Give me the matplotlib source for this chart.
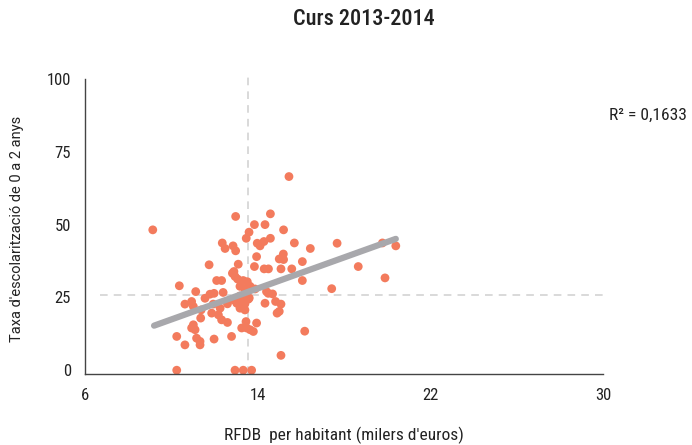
import matplotlib.pyplot as plt
import numpy as np

#
# Data
#
rfdb = [
    9.14, 12.98, 14.59, 13.85, 14.34, 13.60, 13.47, 12.36, 12.86, 12.49,
    12.98, 13.98, 14.11, 14.29, 14.59, 13.95, 11.75, 13.10, 13.85, 14.30,
    14.50, 15.00, 12.90, 15.45, 15.20, 15.70, 16.44, 17.68, 15.19, 15.20,
    16.07, 19.78, 20.40, 18.66, 15.08, 15.58, 19.90, 16.07, 17.43, 14.69,
    14.83, 15.08, 15.00, 14.90, 16.18, 15.08, 12.83, 12.95, 10.37, 12.10,
    12.33, 13.33, 13.52, 13.18, 13.41, 13.65, 13.88, 13.07, 11.13, 11.79,
    11.98, 12.40, 11.56, 10.63, 10.94, 11.02, 11.38, 11.94, 12.60, 12.87,
    13.03, 13.18, 13.33, 13.41, 13.57, 13.18, 13.41, 12.26, 11.87, 12.18,
    11.36, 12.33, 12.60, 10.94, 11.10, 11.02, 10.25, 10.63, 11.17, 11.33,
    11.33, 11.98, 12.79, 13.26, 13.49, 13.80, 13.95, 13.46, 13.65, 13.61,
    14.41, 14.49, 14.34, 10.25, 12.95, 13.33, 13.72,
]
taxa = [
    48.2, 52.8, 53.7, 50.0, 50.0, 47.4, 45.3, 43.7, 42.7, 41.8,
    41.0, 43.6, 42.7, 44.2, 45.3, 39.0, 36.2, 36.4, 35.6, 34.8,
    34.8, 38.2, 33.9, 66.5, 48.2, 43.7, 41.8, 43.6, 39.9, 38.0,
    37.3, 43.7, 42.7, 35.6, 34.8, 34.8, 31.7, 30.8, 28.0, 26.2,
    23.6, 22.7, 20.2, 19.6, 13.4, 5.1, 33.3, 32.2, 29.0, 30.8,
    30.8, 30.8, 30.4, 28.8, 27.9, 28.8, 27.9, 31.3, 27.0, 26.1,
    26.4, 26.7, 24.7, 22.7, 23.6, 21.9, 20.7, 22.7, 22.8, 24.2,
    23.0, 25.5, 24.2, 22.8, 24.4, 21.3, 20.7, 21.3, 19.6, 19.0,
    17.9, 17.3, 16.4, 14.5, 13.9, 15.6, 11.6, 8.7, 11.0, 9.9,
    8.7, 10.7, 11.6, 14.5, 14.5, 13.3, 16.2, 16.7, 13.9, 24.8,
    27.0, 26.4, 23.0, 0.0, 0.0, 0.0, 0.0,
]

# trend line ends and reference (mean) lines
trend_x = [9.2, 20.4]
trend_y = [15.3, 45.1]
mean_x = 13.55
mean_y = 25.9
r2_label = "R² = 0,1633"

x_ticks = [6, 14, 22, 30]
y_ticks = [0, 25, 50, 75, 100]

#
# Style
#
dot_color = "#F37B5D"
trend_color = "#A8A8AC"
guide_color = "#CFCFCF"
text_color = "#222222"
narrow = ["Roboto Condensed", "Liberation Sans Narrow", "Roboto", "DejaVu Sans"]
regular = ["Roboto", "DejaVu Sans"]

fig = plt.figure(figsize=(6.92, 4.45), dpi=100)
ax = fig.add_axes([85 / 692, 1 - 374 / 445, (603 - 85) / 692, (374 - 79) / 445])

# mean guide lines
ax.plot([6.7, 30.2], [mean_y, mean_y], color=guide_color, lw=1.1,
        dashes=(5, 4), clip_on=False, zorder=1)
ax.plot([mean_x, mean_x], [-1.3, 101.5], color=guide_color, lw=1.1,
        dashes=(5, 4), clip_on=False, zorder=1)

ax.scatter(rfdb, taxa, s=40, color=dot_color, edgecolors="none", zorder=2,
           clip_on=False)
ax.plot(trend_x, trend_y, color=trend_color, lw=4.5, solid_capstyle="round",
        zorder=3)

ax.set_xlim(6, 30)
ax.set_ylim(-1.3, 100)
ax.set_xticks(x_ticks)
ax.set_yticks(y_ticks)
ax.tick_params(length=0, pad=10, labelsize=12, colors=text_color)
ax.set_xticks([30], minor=True)
ax.set_yticks([100], minor=True)
ax.tick_params(which="minor", length=4, width=1, color="#444444")
for lab in ax.get_xticklabels() + ax.get_yticklabels():
    lab.set_family(narrow)

for side in ["top", "right"]:
    ax.spines[side].set_visible(False)
for side in ["left", "bottom"]:
    ax.spines[side].set_color("#444444")
    ax.spines[side].set_linewidth(1)

ax.set_xlabel("RFDB  per habitant (milers d'euros)", family=narrow,
              fontsize=12.5, color=text_color, labelpad=17)
fig.text(17 / 692, 1 - 229 / 445, "Taxa d'escolarització de 0 a 2 anys",
         rotation=90, ha="center", va="center", family=regular,
         fontsize=10.5, color=text_color)

fig.text(364 / 692, 1 - 19 / 445, "Curs 2013-2014", ha="center", va="center",
         family=narrow, fontsize=16, weight="medium", color=text_color)
fig.text(609 / 692, 1 - 115 / 445, r2_label, ha="left", va="center",
         family=narrow, fontsize=12.5, color=text_color)

plt.savefig("out.png", dpi=100)
